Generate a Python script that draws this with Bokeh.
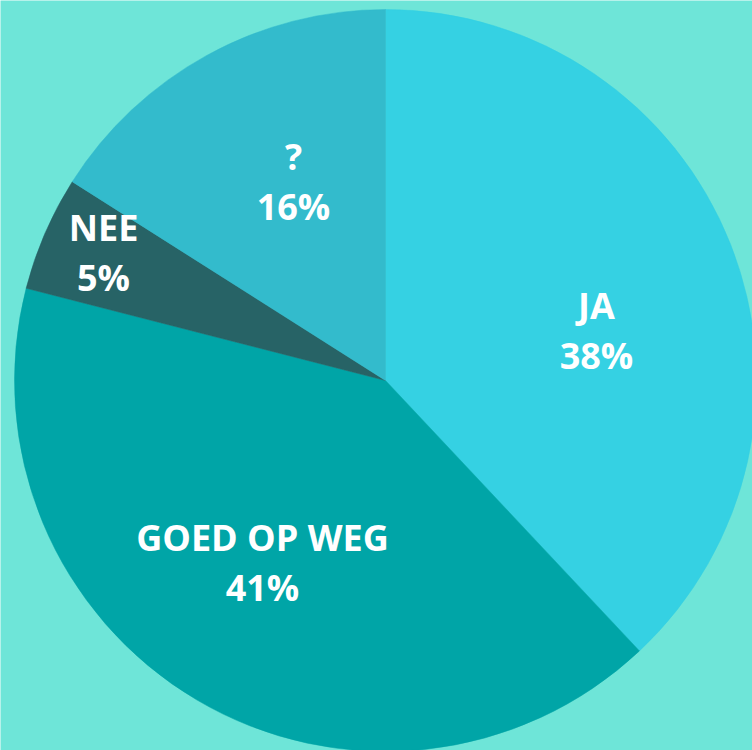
import math
from bokeh.plotting import figure
from bokeh.models import ColumnDataSource
from bokeh.core.properties import value
from bokeh.embed import file_html
from bokeh.resources import INLINE

# Data
categories = ["JA", "GOED OP WEG", "NEE", "?"]
percentages = [38, 41, 5, 16]
colors = ["#35D1E3", "#00A5A7", "#276366", "#33BBCC"]
BG = "#6EE5D8"

# Label placement (pixel offsets from pie centre), styling only
label_dx = [211, -123, -282, -92]
label_dy = [50, -182, 128, 199]

total = sum(percentages)
starts, ends = [], []
cum = 0.0
for v in percentages:
    starts.append(math.pi / 2 - 2 * math.pi * cum / total)
    cum += v
    ends.append(math.pi / 2 - 2 * math.pi * cum / total)

src = ColumnDataSource(dict(cat=categories, pct=percentages, start=starts, end=ends, color=colors))

W, H = 752, 750
CX, CY = 385, 380  # pie centre in page pixels (from top-left)
R = 371
p = figure(width=W, height=H, x_range=(-CX, W - CX), y_range=(-(H - CY), CY),
           output_backend="svg", toolbar_location=None, min_border=0)
p.axis.visible = False
p.grid.visible = False
p.outline_line_color = None
p.background_fill_color = BG
p.border_fill_color = BG

p.wedge(x=0, y=0, radius=R, radius_units="data", start_angle="start", end_angle="end",
        direction="clock", fill_color="color", line_color="color", line_width=0.5, source=src)

lx, ly, tt = [], [], []
for c, v, dx, dy in zip(categories, percentages, label_dx, label_dy):
    lx += [dx, dx]
    ly += [dy + 25, dy - 25]
    tt += [c, f"{v}%"]

lsrc = ColumnDataSource(dict(x=lx, y=ly, t=tt))
p.text(x="x", y="y", text="t", source=lsrc, text_align="center", text_baseline="middle",
       text_color="white", text_font=value("Open Sans"), text_font_style="bold",
       text_font_size="36px")

html = file_html(p, INLINE)
html = html.replace("<body>", f'<body style="background:{BG};margin:0;">', 1)
open("out.html", "w").write(html)
